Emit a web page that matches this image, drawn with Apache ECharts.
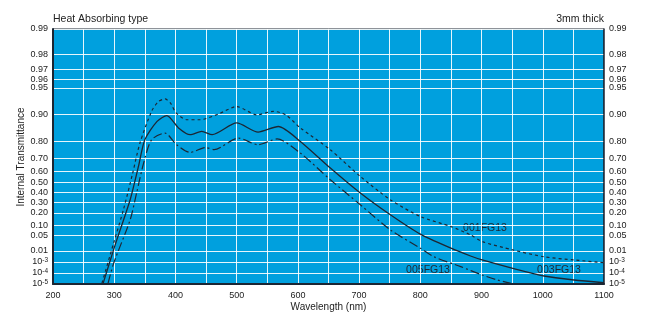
<!DOCTYPE html>
<html><head><meta charset="utf-8">
<script src="https://cdn.jsdelivr.net/npm/echarts@6/dist/echarts.min.js"></script>
<style>html,body{margin:0;padding:0;background:#fff}#c{width:645px;height:326px}</style>
</head><body><div id="c"></div>
<script>
// ---- data ----
const yTickValues = [0.99, 0.98, 0.97, 0.96, 0.95, 0.90, 0.80, 0.70, 0.60, 0.50, 0.40, 0.30, 0.20, 0.10, 0.05, 0.01, 1e-3, 1e-4, 1e-5];
const yTickLabels = ['0.99', '0.98', '0.97', '0.96', '0.95', '0.90', '0.80', '0.70', '0.60', '0.50', '0.40', '0.30', '0.20', '0.10', '0.05', '0.01', '10{s|-3}', '10{s|-4}', '10{s|-5}'];
const xMin = 200, xMax = 1100, xStep = 50, xLabelStep = 100;

const seriesNames = ['001FG13', '003FG13', '005FG13'];
const wl001 = [280, 299, 315, 330, 342, 361, 372, 383, 392, 401, 419, 440, 470, 500, 533, 560, 580, 604, 653, 702, 751, 800, 850, 882, 901, 951, 1002, 1051, 1100];
const t001  = [1.2e-5, 0.024, 0.227, 0.58, 0.791, 0.907, 0.928, 0.933, 0.925, 0.903, 0.884, 0.884, 0.900, 0.918, 0.898, 0.907, 0.898, 0.857, 0.754, 0.554, 0.325, 0.168, 0.0947, 0.0516, 0.0283, 0.0112, 2.9e-3, 1.5e-3, 8.4e-4];

const wl003 = [282, 301, 326, 340, 350, 370, 386, 405, 424, 443, 460, 500, 535, 568, 604, 653, 702, 751, 800, 850, 882, 901, 951, 1002, 1051, 1100];
const t003  = [1.2e-5, 0.018, 0.325, 0.648, 0.807, 0.879, 0.896, 0.857, 0.830, 0.844, 0.830, 0.874, 0.841, 0.862, 0.799, 0.626, 0.393, 0.182, 0.0546, 0.0138, 3.4e-3, 1.5e-3, 2.6e-4, 5.3e-5, 2.3e-5, 1.3e-5];

const wl005 = [290, 299, 326, 337, 348, 361, 383, 402, 424, 449, 463, 503, 535, 566, 604, 653, 702, 751, 800, 822, 866, 901, 926, 948];
const t005  = [1.2e-5, 7.4e-4, 0.141, 0.406, 0.665, 0.807, 0.837, 0.782, 0.738, 0.767, 0.755, 0.815, 0.782, 0.811, 0.734, 0.524, 0.275, 0.0756, 0.0138, 2.9e-3, 3.7e-4, 6.5e-5, 2.3e-5, 1.16e-5];

// ---- scale: internal transmittance (log of absorbance), log-linear below 0.01 ----
const gA = t => -Math.log10(-Math.log(t));
const tSplit = 0.01, tBottom = 1e-5;
const g = t => t >= tSplit ? gA(t)
  : gA(tSplit) + (gA(tSplit) - gA(tBottom)) * Math.log10(t / tSplit) / Math.log10(tSplit / tBottom);
const yMin = g(yTickValues[yTickValues.length - 1]);
const yMax = g(yTickValues[0]);
const yCustom = yTickValues.map(g);
function yLabel(v) {
  let bi = 0, bd = Infinity;
  yCustom.forEach((c, i) => { const d = Math.abs(c - v); if (d < bd) { bd = d; bi = i; } });
  return yTickLabels[bi];
}
const toPts = (w, t) => w.map((x, i) => [x, g(t[i])]);

const ink = '#1c2633';
const txt = '#222';
const font = 'Liberation Sans';
const labelRich = { s: { fontSize: 6.5, verticalAlign: 'top', color: txt, fontFamily: font, padding: [0, 0, 3, 0] } };

function yAxisCfg(pos) {
  return {
    type: 'value', position: pos, min: yMin, max: yMax,
    axisLine: { show: true, onZero: false, lineStyle: { color: ink, width: pos === 'left' ? 2 : 1.5 } },
    axisTick: { show: false, customValues: yCustom },
    axisLabel: { customValues: yCustom, hideOverlap: false, interval: 0, showMinLabel: true, showMaxLabel: true, formatter: yLabel, color: txt, fontSize: 9, fontFamily: font, margin: 5, rich: labelRich },
    splitLine: { show: pos === 'left', lineStyle: { color: 'rgba(255,255,255,0.9)', width: 1 } }
  };
}

const chart = echarts.init(document.getElementById('c'), null, { renderer: 'canvas' });
chart.setOption({
  animation: false,
  backgroundColor: '#fff',
  grid: { left: 53, right: 41, top: 29, bottom: 42, show: true, backgroundColor: '#00a0de', borderColor: ink, borderWidth: 1 },
  xAxis: {
    type: 'value', min: xMin, max: xMax, interval: xStep,
    axisLine: { show: true, onZero: false, lineStyle: { color: ink, width: 2 } },
    axisTick: { show: false },
    axisLabel: { formatter: v => (v % xLabelStep === 0 ? String(v) : ''), color: txt, fontSize: 9, fontFamily: font, margin: 7, showMinLabel: true, showMaxLabel: true },
    splitLine: { show: true, lineStyle: { color: 'rgba(255,255,255,0.9)', width: 1 } }
  },
  yAxis: [yAxisCfg('left'), yAxisCfg('right')],
  series: [
    { name: seriesNames[0], type: 'line', data: toPts(wl001, t001), symbol: 'none', smooth: 0.25, lineStyle: { color: ink, width: 1.2, type: [3, 3] } },
    { name: seriesNames[1], type: 'line', data: toPts(wl003, t003), symbol: 'none', smooth: 0.25, lineStyle: { color: ink, width: 1.3, type: 'solid' } },
    { name: seriesNames[2], type: 'line', data: toPts(wl005, t005), symbol: 'none', smooth: 0.25, lineStyle: { color: ink, width: 1.2, type: [9, 3, 2, 3] } }
  ],
  graphic: [
    { type: 'text', left: 53, top: 14, style: { text: 'Heat Absorbing type', fill: txt, fontSize: 10.5, fontFamily: font } },
    { type: 'text', right: 41, top: 14, style: { text: '3mm thick', fill: txt, fontSize: 10.5, fontFamily: font } },
    { type: 'text', x: 328.5, y: 307, style: { text: 'Wavelength (nm)', fill: txt, fontSize: 10, fontFamily: font, align: 'center', verticalAlign: 'middle' } },
    { type: 'text', x: 21, y: 157, rotation: Math.PI / 2, style: { text: 'Internal Transmittance', fill: txt, fontSize: 10, fontFamily: font, align: 'center', verticalAlign: 'middle' } },
    { type: 'text', x: 485, y: 228.5, style: { text: seriesNames[0], fill: ink, fontSize: 10.5, fontFamily: font, align: 'center', verticalAlign: 'middle' } },
    { type: 'text', x: 428, y: 270, style: { text: seriesNames[2], fill: ink, fontSize: 10.5, fontFamily: font, align: 'center', verticalAlign: 'middle' } },
    { type: 'text', x: 559, y: 270, style: { text: seriesNames[1], fill: ink, fontSize: 10.5, fontFamily: font, align: 'center', verticalAlign: 'middle' } }
  ]
});
</script></body></html>
